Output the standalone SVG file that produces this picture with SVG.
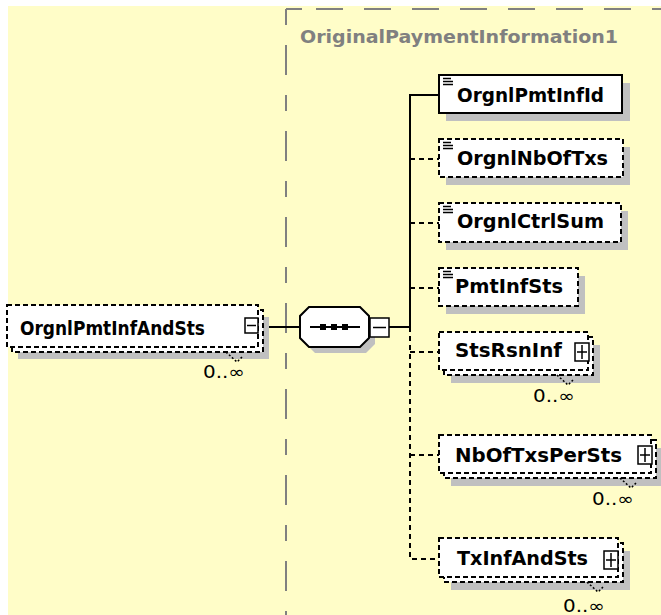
<svg xmlns="http://www.w3.org/2000/svg" width="661" height="615" viewBox="0 0 661 615">
<style>
.bg{fill:#FFFDC8}
.sh{fill:#C0C0C0}
.box{fill:#fff;stroke:#000;stroke-width:2}
.dsh{stroke-dasharray:5 3}
.lbl{font-family:"DejaVu Sans",Verdana,sans-serif;font-weight:bold;font-size:19.5px;fill:#000}
.occ{font-family:"DejaVu Sans",Verdana,sans-serif;font-size:17px;fill:#000}
.ttl{font-family:"DejaVu Sans",Verdana,sans-serif;font-weight:bold;font-size:18px;fill:#808080}
.conn{stroke:#000;stroke-width:2;fill:none}
.cd{stroke-dasharray:5 4}
.pm{fill:#fff;stroke:#000;stroke-width:1.5}
.pml{stroke:#000;stroke-width:1.5;fill:none}
.ico{stroke:#000;stroke-width:1.5}
.tick{stroke:#000;stroke-width:1.5;fill:none;stroke-dasharray:2 2}
.frame{stroke:#808080;stroke-width:2;fill:none}
</style>
<rect x="0" y="0" width="661" height="615" fill="#fff"/>
<rect class="bg" x="8" y="6" width="653" height="609"/>

<g id="complexType-frame">
<line class="frame" x1="286" y1="9" x2="286" y2="615" stroke-dasharray="16 20 30 20" />
<line class="frame" x1="286" y1="9" x2="661" y2="9" stroke-dasharray="16 14 27 21 27 21 27 21 27 21 27 21 27 21 27 21 27"/>
<text class="ttl" x="300" y="43" textLength="318" lengthAdjust="spacingAndGlyphs">OriginalPaymentInformation1</text>
</g>

<g id="connectors">
<line class="conn" x1="258" y1="327" x2="300" y2="327"/>
<line class="conn" x1="389" y1="327" x2="411" y2="327"/>
<polyline class="conn" points="439,95 410,95 410,327"/>
<polyline class="conn cd" points="410,327 410,559 439,559"/>
<line class="conn cd" x1="410" y1="159" x2="439" y2="159"/>
<line class="conn cd" x1="410" y1="223" x2="439" y2="223"/>
<line class="conn cd" x1="410" y1="288" x2="439" y2="288"/>
<line class="conn cd" x1="410" y1="352" x2="439" y2="352"/>
<line class="conn cd" x1="410" y1="455" x2="439" y2="455"/>
</g>

<g id="OrgnlPmtInfAndSts">
<rect class="sh" x="18" y="317" width="251" height="42"/>
<rect class="box dsh" x="12" y="310" width="251" height="42"/>
<rect class="box dsh" x="7" y="305" width="251" height="42"/>
<polyline class="tick" points="226,352 237,362 242,357"/>
<text class="lbl" x="20" y="335" textLength="185" lengthAdjust="spacingAndGlyphs">OrgnlPmtInfAndSts</text>
<rect class="pm" x="245" y="318" width="13" height="15"/>
<line class="pml" x1="247" y1="325.5" x2="256" y2="325.5"/>
<text class="occ" x="203" y="378" textLength="42" lengthAdjust="spacingAndGlyphs">0..∞</text>
</g>

<g id="sequence">
<polygon class="sh" points="315,313 366,313 375,322 375,344 366,353 315,353 306,344 306,322"/>
<polygon class="box" points="309,307 360,307 369,316 369,338 360,347 309,347 300,338 300,316"/>
<line class="conn" x1="310" y1="327" x2="360" y2="327"/>
<rect x="320" y="324" width="6" height="6" fill="#000"/>
<rect x="331" y="324" width="6" height="6" fill="#000"/>
<rect x="342" y="324" width="6" height="6" fill="#000"/>
<rect class="pm" x="370" y="318" width="19" height="19"/>
<line class="pml" x1="373" y1="327.5" x2="386" y2="327.5"/>
</g>

<g id="OrgnlPmtInfId">
<rect class="sh" x="446" y="83" width="184" height="38"/>
<rect class="box" x="439" y="75" width="183" height="38"/>
<path class="ico" d="M443,78.5h8M443,81.5h10M443,84.5h10"/>
<text class="lbl" x="457" y="102" textLength="147" lengthAdjust="spacingAndGlyphs">OrgnlPmtInfId</text>
</g>

<g id="OrgnlNbOfTxs">
<rect class="sh" x="446" y="147" width="184" height="38"/>
<rect class="box dsh" x="439" y="139" width="184" height="38"/>
<path class="ico" d="M443,142.5h8M443,145.5h10M443,148.5h10"/>
<text class="lbl" x="457" y="165" textLength="151" lengthAdjust="spacingAndGlyphs">OrgnlNbOfTxs</text>
</g>

<g id="OrgnlCtrlSum">
<rect class="sh" x="446" y="211" width="182" height="39"/>
<rect class="box dsh" x="439" y="203" width="182" height="39"/>
<path class="ico" d="M443,206.5h8M443,209.5h10M443,212.5h10"/>
<text class="lbl" x="457" y="228" textLength="147" lengthAdjust="spacingAndGlyphs">OrgnlCtrlSum</text>
</g>

<g id="PmtInfSts">
<rect class="sh" x="446" y="276" width="139" height="38"/>
<rect class="box dsh" x="439" y="268" width="139" height="38"/>
<path class="ico" d="M443,271.5h8M443,274.5h10M443,277.5h10"/>
<text class="lbl" x="455" y="293" textLength="108" lengthAdjust="spacingAndGlyphs">PmtInfSts</text>
</g>

<g id="StsRsnInf">
<rect class="sh" x="451" y="345" width="149" height="38"/>
<rect class="box dsh" x="444" y="337" width="149" height="38"/>
<rect class="box dsh" x="439" y="332" width="149" height="38"/>
<polyline class="tick" points="557,375 568,385 573,380"/>
<text class="lbl" x="455" y="357" textLength="107" lengthAdjust="spacingAndGlyphs">StsRsnInf</text>
<rect class="pm" x="575" y="343" width="14" height="18"/>
<path class="pml" d="M577,352h10M582,345v14"/>
<text class="occ" x="533" y="402" textLength="42" lengthAdjust="spacingAndGlyphs">0..∞</text>
</g>

<g id="NbOfTxsPerSts">
<rect class="sh" x="451" y="448" width="212" height="38"/>
<rect class="box dsh" x="444" y="440" width="212" height="38"/>
<rect class="box dsh" x="439" y="435" width="212" height="38"/>
<polyline class="tick" points="620,478 631,488 636,483"/>
<text class="lbl" x="455" y="462" textLength="167" lengthAdjust="spacingAndGlyphs">NbOfTxsPerSts</text>
<rect class="pm" x="638" y="446" width="14" height="18"/>
<path class="pml" d="M640,455h10M645,448v14"/>
<text class="occ" x="592" y="505" textLength="42" lengthAdjust="spacingAndGlyphs">0..∞</text>
</g>

<g id="TxInfAndSts">
<rect class="sh" x="451" y="551" width="179" height="39"/>
<rect class="box dsh" x="444" y="543" width="179" height="39"/>
<rect class="box dsh" x="439" y="538" width="179" height="39"/>
<polyline class="tick" points="587,582 598,592 603,587"/>
<text class="lbl" x="457" y="565" textLength="131" lengthAdjust="spacingAndGlyphs">TxInfAndSts</text>
<rect class="pm" x="604" y="551" width="14" height="18"/>
<path class="pml" d="M606,560h10M611,553v14"/>
<text class="occ" x="563" y="612" textLength="42" lengthAdjust="spacingAndGlyphs">0..∞</text>
</g>
</svg>
